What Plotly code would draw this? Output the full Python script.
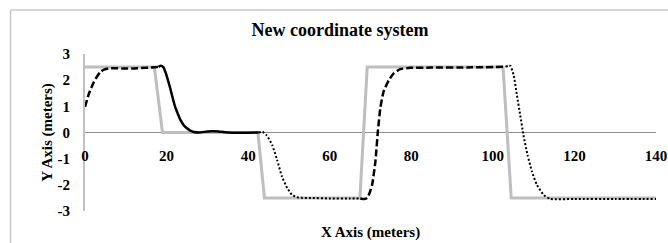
import plotly.graph_objects as go

# ---- data ----
ref_x = [0, 17, 19, 42.4, 44, 67.4, 69.2, 102.5, 104.5, 140]
ref_y = [2.5, 2.5, 0, 0, -2.5, -2.5, 2.5, 2.5, -2.5, -2.5]

dash1_x = [0, 1, 2.2, 3, 3.8, 4.8, 5.8, 7, 9, 12, 15, 18]
dash1_y = [0.98, 1.5, 1.94, 2.15, 2.32, 2.41, 2.45, 2.46, 2.45, 2.45, 2.47, 2.5]

solid_x = [18, 18.5, 19.2, 19.7, 20.3, 20.9, 21.5, 22.1, 22.8, 23.4, 24.2, 25, 25.8,
           26.7, 28, 30, 31.6, 33, 35, 38, 42.6]
solid_y = [2.5, 2.55, 2.5, 2.32, 2.02, 1.69, 1.32, 0.98, 0.7, 0.48, 0.28, 0.16, 0.07,
           0.02, 0.0, 0.04, 0.05, 0.03, 0.0, -0.01, 0]

dot1_x = [42.6, 43.5, 44.5, 45.9, 47.1, 48.3, 49.6, 50.8, 52.4, 55, 60, 65, 67.5]
dot1_y = [0, 0.03, -0.1, -0.48, -1.05, -1.69, -2.13, -2.39, -2.49, -2.5, -2.52, -2.52, -2.52]

dash2_x = [67.5, 68.5, 69.2, 69.8, 70.4, 71.2, 71.8, 72.4, 73.2, 74.5, 75.7, 77.3,
           79.8, 85, 95, 103.1]
dash2_y = [-2.52, -2.54, -2.5, -2.3, -2.0, -1.11, 0.03, 0.92, 1.56, 2.0, 2.26, 2.42,
           2.47, 2.48, 2.49, 2.51]

dot2_x = [103.1, 103.8, 104.3, 105.1, 105.9, 106.7, 107.5, 108.5, 109.6, 110.8,
          112.5, 114.1, 120, 130, 140]
dot2_y = [2.51, 2.55, 2.55, 2.19, 1.43, 0.67, -0.1, -0.86, -1.5, -2.0,
          -2.39, -2.54, -2.54, -2.54, -2.54]

x_ticks = [0, 20, 40, 60, 80, 100, 120, 140]
y_ticks = [-3, -2, -1, 0, 1, 2, 3]
y_tick_labels = ["-3", "-2", "-1", "0", "1", "2", "3"]

title_text = "New coordinate system"
x_title = "X Axis (meters)"
y_title = "Y Axis (meters)"

FONT = "Liberation Serif"

W, H = 668, 243

fig = go.Figure()
fig.add_trace(go.Scatter(x=ref_x, y=ref_y, mode="lines",
                         line=dict(color="#BEBEBE", width=3), hoverinfo="skip"))
fig.add_trace(go.Scatter(x=dash1_x, y=dash1_y, mode="lines",
                         line=dict(color="black", width=2.5, dash="7px,3px", shape="spline", smoothing=0.5)))
fig.add_trace(go.Scatter(x=solid_x, y=solid_y, mode="lines",
                         line=dict(color="black", width=2.5, shape="spline", smoothing=0.5)))
fig.add_trace(go.Scatter(x=dot1_x, y=dot1_y, mode="lines",
                         line=dict(color="black", width=2, dash="2px,2px", shape="spline", smoothing=0.5)))
fig.add_trace(go.Scatter(x=dash2_x, y=dash2_y, mode="lines",
                         line=dict(color="black", width=2.5, dash="7px,3px", shape="spline", smoothing=0.5)))
fig.add_trace(go.Scatter(x=dot2_x, y=dot2_y, mode="lines",
                         line=dict(color="black", width=2, dash="2px,2px", shape="spline", smoothing=0.5)))

# plot area geometry (px)
L = 84.5
T = 54
R = 668 - 655.7
B = 243 - 211
pw = W - L - R
ph = H - T - B

def px_to_paper_x(px):
    return (px - L) / pw

def px_to_paper_y(py):
    return 1 - (py - T) / ph

fig.update_layout(
    width=W, height=H,
    margin=dict(l=L, r=R, t=T, b=B, pad=0, autoexpand=False),
    paper_bgcolor="white", plot_bgcolor="white",
    showlegend=False,
    font=dict(family=FONT, color="black", size=15),
    title=dict(text="<b>" + title_text + "</b>", x=340 / W, y=1 - 29.5 / H,
               xanchor="center", yanchor="middle", xref="container", yref="container",
               font=dict(family=FONT, size=18, color="black")),
    xaxis=dict(range=[0, 140], tickvals=x_ticks, ticktext=["<b>%d</b>" % v for v in x_ticks],
               showgrid=False, zeroline=False, showline=False, ticks="",
               anchor="free", position=0.5, ticklabelstandoff=12,
               ticklabeloverflow="allow",
               tickfont=dict(family=FONT, size=15, color="black")),
    yaxis=dict(range=[-3, 3], tickvals=y_ticks, ticktext=["<b>%s</b>" % t for t in y_tick_labels],
               showgrid=False, zeroline=True, zerolinecolor="#8C8C8C", zerolinewidth=1,
               showline=True, linecolor="#C0C0C0", linewidth=2, ticks="",
               ticklabelstandoff=10,
               tickfont=dict(family=FONT, size=15, color="black"),
               title=dict(text="<b>" + y_title + "</b>", standoff=1,
                          font=dict(family=FONT, size=15, color="black"))),
)

fig.add_annotation(text="<b>" + x_title + "</b>", xref="paper", yref="paper",
                   x=0.5, y=px_to_paper_y(232.7), xanchor="center", yanchor="middle",
                   showarrow=False, font=dict(family=FONT, size=15, color="black"))

# outer chart border (left and top edges visible)
bx = px_to_paper_x(10)
by = px_to_paper_y(10)
fig.add_shape(type="line", xref="paper", yref="paper", x0=bx, x1=bx, y0=by, y1=-1,
              line=dict(color="#C8C8C8", width=1.5))
fig.add_shape(type="line", xref="paper", yref="paper", x0=bx, x1=2, y0=by, y1=by,
              line=dict(color="#C8C8C8", width=1.5))

fig.write_html("out.html", config={"displayModeBar": False},
               post_script="document.body.style.margin='0';document.body.style.overflow='hidden';")
